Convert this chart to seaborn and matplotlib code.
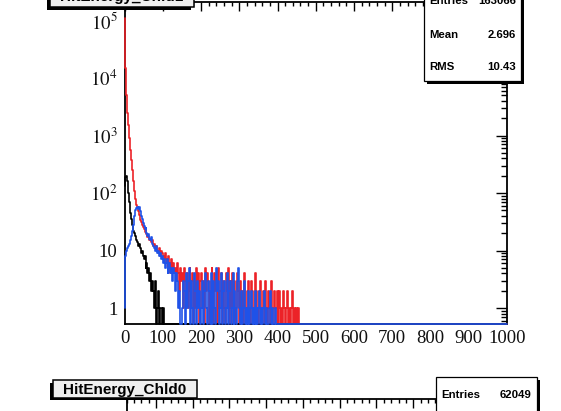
import numpy as np
import pandas as pd
import matplotlib
matplotlib.use("Agg")
import matplotlib.pyplot as plt
import seaborn as sns
from matplotlib.patches import Rectangle
from matplotlib.ticker import MultipleLocator, FixedLocator, FixedFormatter, LogLocator, NullFormatter

sns.set_theme(style="white")
plt.rcParams["font.family"] = ["Liberation Serif", "DejaVu Serif"]
plt.rcParams["mathtext.fontset"] = "stix"

# ---- histogram contents (2.5-unit bins starting at 0; later bins are empty) ----
BIN_WIDTH = 2.5
X_RANGE = (0, 1000)
Y_RANGE = (0.527, 2.1e5)

red_counts = [
    110000, 15000, 5000, 2500, 1500, 900, 560, 380, 250, 160,
    110, 80, 62, 55, 48, 42, 34, 31, 28, 26,
    24, 21, 22, 19, 17, 18, 15, 16, 14, 15,
    12, 13, 11, 12, 10, 9, 11, 8, 10, 9,
    8, 7, 9, 6, 7, 5, 8, 6, 4, 7,
    5, 6, 4, 5, 3, 6, 4, 2, 5, 3,
    4, 1, 5, 3, 2, 4, 1, 3, 5, 2,
    3, 4, 0, 3, 1, 5, 2, 4, 0, 3,
    4, 1, 3, 0, 5, 2, 4, 3, 0, 2,
    3, 5, 1, 0, 4, 2, 3, 0, 5, 1,
    2, 4, 0, 3, 1, 0, 4, 2, 5, 0,
    3, 1, 4, 0, 2, 3, 0, 1, 4, 2,
    0, 3, 1, 2, 0, 4, 1, 0, 2, 3,
    1, 0, 3, 2, 0, 1, 4, 0, 2, 1,
    0, 2, 3, 0, 1, 2, 0, 3, 1, 0,
    2, 1, 0, 3, 0, 1, 2, 0, 1, 2,
    0, 1, 2, 0, 1, 0, 2, 1, 0, 1,
    2, 0, 1, 0, 1, 2, 0, 1, 0, 1,
    0, 1, 1, 0,
]
black_counts = [
    130, 190, 200, 160, 100, 70, 45, 35, 28, 22,
    20, 18, 15, 14, 12, 13, 11, 9, 10, 8,
    7, 8, 5, 6, 4, 5, 3, 4, 2, 3,
    2, 1, 3, 0, 1, 2, 0, 1, 1, 0,
    1,
]
blue_counts = [
    1, 8, 10, 11, 12, 13, 15, 18, 22, 28,
    40, 50, 55, 58, 52, 57, 48, 40, 35, 30,
    27, 24, 25, 20, 18, 19, 16, 15, 17, 13,
    12, 11, 10, 12, 9, 10, 8, 9, 7, 8,
    6, 7, 5, 6, 7, 4, 5, 6, 4, 5,
    3, 5, 4, 2, 4, 3, 1, 2, 0, 0,
    1, 3, 2, 0, 4, 1, 3, 5, 2, 0,
    3, 1, 0, 4, 2, 0, 3, 1, 2, 0,
    1, 3, 0, 2, 4, 1, 0, 3, 2, 0,
    4, 2, 0, 3, 1, 0, 5, 2, 3, 0,
    1, 4, 0, 2, 3, 0, 1, 4, 0, 2,
    3, 0, 1, 4, 0, 2, 1, 0, 3, 5,
    1, 0, 2, 0, 1, 3, 0, 1, 0, 2,
    0, 1, 2, 0, 1, 0, 2, 0, 1, 0,
    1, 2, 0, 1, 0, 1, 2, 0, 1, 0,
    0, 1, 2, 0, 1, 0, 0, 1, 0, 0,
]

stat_labels = ["Entries", "Mean", "RMS"]
stat_values = ["163066", "2.696", "10.43"]
lower_title = "HitEnergy_Chld0"
lower_entries = "62049"
upper_title = "HitEnergy_Chld1"

y_tick_values = [1, 10, 100, 1000, 10000, 100000]
y_tick_labels = ["1", "10", r"$10^{2}$", r"$10^{3}$", r"$10^{4}$", r"$10^{5}$"]

edges = np.arange(X_RANGE[0], X_RANGE[1] + BIN_WIDTH, BIN_WIDTH)
centers = edges[:-1] + BIN_WIDTH / 2
n_bins = len(centers)


def full(counts):
    arr = np.zeros(n_bins)
    arr[:len(counts)] = counts
    return arr


W, H = 561, 411
fig = plt.figure(figsize=(W / 100, H / 100), dpi=100)
fig.patch.set_facecolor("white")


def px_rect(left, right, top, bottom):
    return [left / W, (H - bottom) / H, (right - left) / W, (bottom - top) / H]


ax = fig.add_axes(px_rect(124.5, 507, 2, 324))
ax.set_facecolor("white")

series = [("red", red_counts, "#ec2228"),
          ("black", black_counts, "black"),
          ("blue", blue_counts, "#1f52e8")]
for name, counts, color in series:
    c = full(counts)
    # empty bins sit on the lower frame edge, as in a ROOT log-scale plot
    shown = np.where(c > 0, c, Y_RANGE[0])
    df = pd.DataFrame({"energy": centers, "count": shown})
    sns.histplot(data=df, x="energy", weights="count",
                 binwidth=BIN_WIDTH, binrange=X_RANGE,
                 element="step", fill=False, color=color, linewidth=1.2,
                 ax=ax)

for line in ax.lines:
    line.set_zorder(3)
    line.set_clip_on(False)

ax.set_yscale("log")
ax.set_xlim(*X_RANGE)
ax.set_ylim(*Y_RANGE)
ax.set_xlabel("")
ax.set_ylabel("")

ax.xaxis.set_major_locator(MultipleLocator(100))
ax.xaxis.set_minor_locator(MultipleLocator(20))
ax.yaxis.set_major_locator(FixedLocator(y_tick_values))
ax.yaxis.set_major_formatter(FixedFormatter(y_tick_labels))
ax.yaxis.set_minor_locator(LogLocator(base=10, subs=np.arange(2, 10)))
ax.yaxis.set_minor_formatter(NullFormatter())

ax.tick_params(axis="both", which="both", direction="in", top=True, right=True,
               color="black", width=1.0)
ax.tick_params(axis="x", which="major", length=6.5, pad=4.5, labelsize=13.5)
ax.tick_params(axis="x", which="minor", length=3.2)
ax.tick_params(axis="y", which="major", length=8, pad=5, labelsize=13.5)
ax.tick_params(axis="y", which="minor", length=4)
for lab in ax.get_xticklabels() + ax.get_yticklabels():
    lab.set_color("#111111")
for sp in ax.spines.values():
    sp.set_color("black")
    sp.set_linewidth(1.3)

# ---- lower pad, mostly below the canvas edge ----
ax2 = fig.add_axes(px_rect(126.5, 507, 399.5, 721.5))
ax2.set_facecolor("white")
ax2.set_yscale("log")
ax2.set_xlim(-80, 955)
ax2.set_ylim(0.5, 1.2e4)
ax2.xaxis.set_major_locator(MultipleLocator(100))
ax2.xaxis.set_minor_locator(MultipleLocator(20))
ax2.yaxis.set_major_locator(LogLocator(base=10))
ax2.yaxis.set_minor_locator(LogLocator(base=10, subs=np.arange(2, 10)))
ax2.tick_params(axis="both", which="both", direction="in", top=True, right=True,
                labelbottom=False, labelleft=False, color="black", width=1.0)
ax2.tick_params(axis="x", which="major", length=6.5)
ax2.tick_params(axis="x", which="minor", length=3.2)
ax2.tick_params(axis="y", which="major", length=8)
ax2.tick_params(axis="y", which="minor", length=4)
for sp in ax2.spines.values():
    sp.set_color("black")
    sp.set_linewidth(1.3)

# ---- title and statistics boxes drawn in pixel coordinates ----
ov = fig.add_axes([0, 0, 1, 1], zorder=10)
ov.set_xlim(0, W)
ov.set_ylim(H, 0)
ov.axis("off")
ov.patch.set_alpha(0)


def shadow_box(left, right, top, bottom, face, dx=2.5, dy=2.5, lw=0.9):
    ov.add_patch(Rectangle((left + dx, top + dy), right - left, bottom - top,
                           facecolor="black", edgecolor="none"))
    ov.add_patch(Rectangle((left, top), right - left, bottom - top,
                           facecolor=face, edgecolor="black", linewidth=lw))


sans = ["Liberation Sans", "DejaVu Sans"]
STAT_SIZE = 8.2

# upper pad title (largely above the canvas)
shadow_box(50, 194, -30, 7.5, "#efefef", dx=-2.5, lw=1.1)
ov.text(122, 1.5, upper_title, family=sans, weight="bold", fontsize=11,
        ha="center", va="baseline", color="black", clip_on=True)

# upper pad statistics
shadow_box(424, 521, -30, 81, "white", dx=3.5, dy=3.5)
for i, (lab, val) in enumerate(zip(stat_labels, stat_values)):
    yb = [4, 37.5, 70][i]
    ov.text(429, yb, lab, family=sans, weight="bold", fontsize=STAT_SIZE,
            ha="left", va="baseline", color="black")
    ov.text(516, yb, val, family=sans, weight="bold", fontsize=STAT_SIZE,
            ha="right", va="baseline", color="black")

# lower pad title
shadow_box(53, 197, 380, 397.5, "#efefef", dx=-2.5, lw=1.1)
ov.text(125, 393.5, lower_title, family=sans, weight="bold", fontsize=11,
        ha="center", va="baseline", color="black")

# lower pad statistics
shadow_box(436, 537, 376.5, 440, "white", dx=3.5, dy=3.5)
ov.text(441, 398, stat_labels[0], family=sans, weight="bold", fontsize=STAT_SIZE,
        ha="left", va="baseline", color="black")
ov.text(531, 398, lower_entries, family=sans, weight="bold", fontsize=STAT_SIZE,
        ha="right", va="baseline", color="black")

fig.savefig("out.png", dpi=100, facecolor="white")
